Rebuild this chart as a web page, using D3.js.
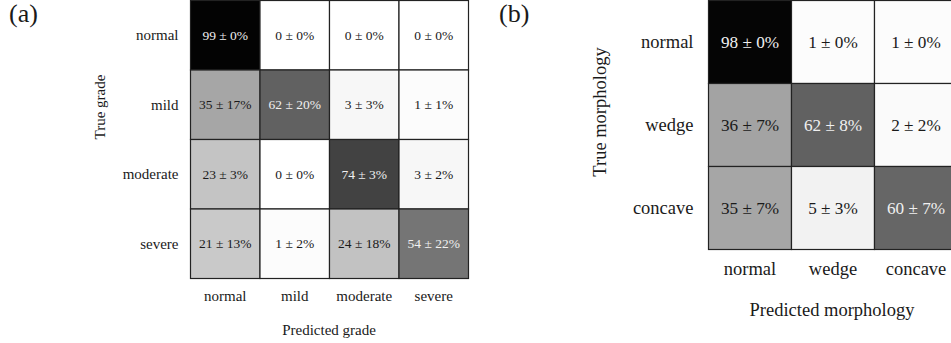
<!DOCTYPE html>
<html><head><meta charset="utf-8">
<script src="https://cdn.jsdelivr.net/npm/d3@7"></script>
<style>body{margin:0;background:#fff;} svg{display:block;}</style>
</head><body>
<script>
// Panel (a): grade
const gradeCategories = ["normal", "mild", "moderate", "severe"];
const gradeMeans = [
  [99, 0, 0, 0],
  [35, 62, 3, 1],
  [23, 0, 74, 3],
  [21, 1, 24, 54]
];
const gradeStds = [
  [0, 0, 0, 0],
  [17, 20, 3, 1],
  [3, 0, 3, 2],
  [13, 2, 18, 22]
];
// Panel (b): morphology
const morphCategories = ["normal", "wedge", "concave"];
const morphMeans = [
  [98, 1, 1],
  [36, 62, 2],
  [35, 5, 60]
];
const morphStds = [
  [0, 0, 0],
  [7, 8, 2],
  [7, 3, 7]
];

const W = 951, H = 343;
const FONT = "'Liberation Serif', 'DejaVu Serif', serif";
const svg = d3.select("body").append("svg").attr("width", W).attr("height", H);
const color = d3.scaleLinear().domain([0, 100]).range(["#ffffff", "#000000"]);

function panel(o) {
  const g = svg.append("g");
  const x = d3.scaleBand().domain(o.cats).range([o.x0, o.x0 + o.size]);
  const y = d3.scaleBand().domain(o.cats).range([o.y0, o.y0 + o.size]);
  const cells = [];
  o.means.forEach((row, i) => row.forEach((v, j) => cells.push({r: o.cats[i], c: o.cats[j], v, s: o.stds[i][j]})));
  g.selectAll("rect.cell").data(cells).join("rect")
    .attr("x", d => x(d.c)).attr("y", d => y(d.r))
    .attr("width", x.bandwidth()).attr("height", y.bandwidth())
    .attr("fill", d => color(d.v)).attr("stroke", "#222").attr("stroke-width", 1.2);
  g.selectAll("text.cell").data(cells).join("text")
    .attr("x", d => x(d.c) + x.bandwidth() / 2).attr("y", d => y(d.r) + y.bandwidth() / 2)
    .attr("text-anchor", "middle").attr("dominant-baseline", "central")
    .attr("font-family", FONT).attr("font-size", o.cellFs)
    .attr("fill", d => d.v > 50 ? "#f0f0f0" : "#1a1a1a")
    .text(d => `${d.v} \u00b1 ${d.s}%`);
  // row labels
  const ya = d3.axisLeft(y).tickSize(0).tickPadding(o.rowPad);
  const yg = g.append("g").attr("transform", `translate(${o.x0},0)`).call(ya);
  yg.attr("font-family", FONT);
  yg.select(".domain").remove();
  yg.selectAll("text").attr("font-family", FONT).attr("font-size", o.labFs).attr("fill", "#1a1a1a");
  const xa = d3.axisBottom(x).tickSize(0).tickPadding(o.colPad);
  const xg = g.append("g").attr("transform", `translate(0,${o.y0 + o.size})`).call(xa);
  xg.attr("font-family", FONT);
  xg.select(".domain").remove();
  xg.selectAll("text").attr("font-family", FONT).attr("font-size", o.labFs).attr("fill", "#1a1a1a");
  g.append("text").attr("x", o.xTitle[0]).attr("y", o.xTitle[1]).attr("text-anchor", "middle")
    .attr("font-family", FONT).attr("font-size", o.labFs).attr("fill", "#1a1a1a").text(o.xLabel);
  g.append("text").attr("transform", `translate(${o.yTitle[0]},${o.yTitle[1]}) rotate(-90)`)
    .attr("text-anchor", "middle").attr("dominant-baseline", "central")
    .attr("font-family", FONT).attr("font-size", o.labFs).attr("fill", "#1a1a1a").text(o.yLabel);
  g.append("text").attr("x", o.tag[0]).attr("y", o.tag[1])
    .attr("font-family", FONT).attr("font-size", o.tagFs).attr("fill", "#1a1a1a").text(o.tagText);
}

panel({cats: gradeCategories, means: gradeMeans, stds: gradeStds,
  x0: 190.5, y0: 0.5, size: 278, cellFs: 13.5, labFs: 15, rowPad: 12, colPad: 12,
  xLabel: "Predicted grade", yLabel: "True grade", xTitle: [329, 335], yTitle: [100, 107],
  tag: [9, 22], tagFs: 26, tagText: "(a)"});
panel({cats: morphCategories, means: morphMeans, stds: morphStds,
  x0: 708.5, y0: 0.5, size: 249, cellFs: 17.2, labFs: 18.5, rowPad: 15, colPad: 12,
  xLabel: "Predicted morphology", yLabel: "True morphology", xTitle: [832, 316], yTitle: [600, 112],
  tag: [499, 22], tagFs: 26, tagText: "(b)"});
</script>
</body></html>
